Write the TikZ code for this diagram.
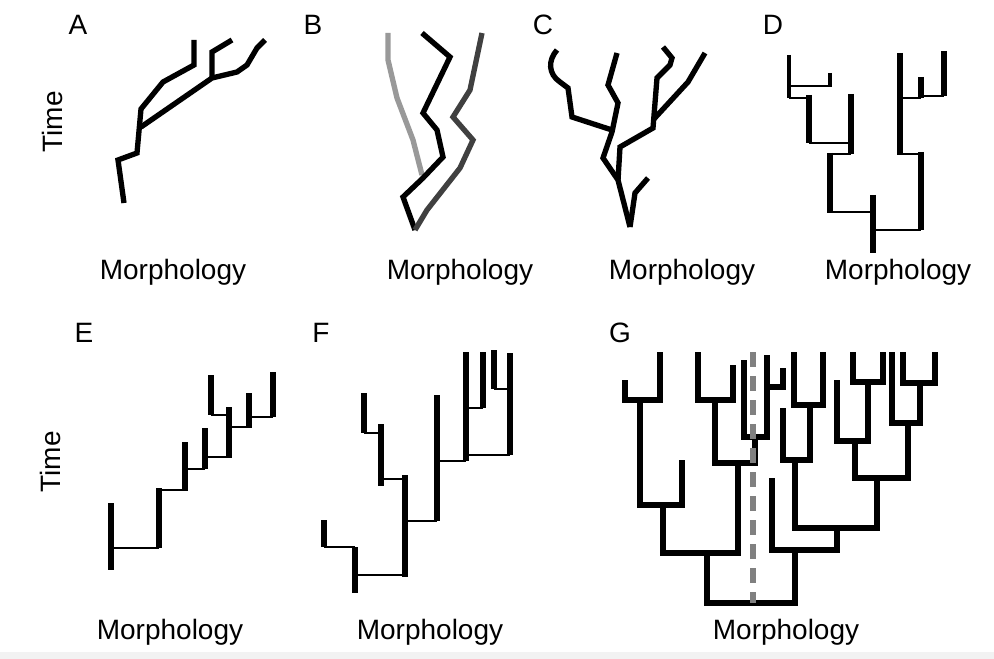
\documentclass[tikz,border=0pt]{standalone}
\usepackage{fontspec}
\setmainfont{Liberation Sans}
\begin{document}
\begin{tikzpicture}[x=0.75pt,y=0.75pt,yscale=-1,xscale=1,
  lbl/.style={font=\fontsize{21}{24}\selectfont,inner sep=0pt},
  lineage/.style={line width=4pt,line join=miter},
  taxon/.style={line width=4.4pt},
  link/.style={line width=1.1pt},
  clade/.style={line width=4pt,line join=miter}]
\useasboundingbox (0,0) rectangle (994,659);
\fill[black!5] (0,652) rectangle (994,659);

% Panel labels
\node[lbl] (labA) at (78,25) {A};
\node[lbl] (labB) at (313,25) {B};
\node[lbl] (labC) at (543,25) {C};
\node[lbl] (labD) at (773,25) {D};
\node[lbl] (labE) at (84,333) {E};
\node[lbl] (labF) at (321,333) {F};
\node[lbl] (labG) at (620,333) {G};
\node[lbl,rotate=90] (timeA) at (52,122) {Time};
\node[lbl,rotate=90] (timeE) at (50,462) {Time};
\node[lbl] (morA) at (173,272) {Morphology};
\node[lbl] (morB) at (460,272) {Morphology};
\node[lbl] (morC) at (682,272) {Morphology};
\node[lbl] (morD) at (898,272) {Morphology};
\node[lbl] (morE) at (170,632) {Morphology};
\node[lbl] (morF) at (430,632) {Morphology};
\node[lbl] (morG) at (786,632) {Morphology};

% A
\draw[lineage] (124,203) -- (118,160) -- (137,153) -- (141,109) -- (163,82) -- (194,65) -- (194,40);
\draw[lineage] (141,127) -- (212,78) -- (237,72) -- (247,65) -- (257,48) -- (265,40);
\draw[lineage] (212,78) -- (212,52) -- (232,40);

% B
\draw[lineage,black!40] (388,33) -- (388,60) -- (397,98) -- (413,140) -- (422,175);
\draw[lineage] (422,33) -- (450,57) -- (423,113) -- (437,130) -- (443,157) -- (423,178) -- (403,197) -- (415,230);
\draw[lineage,black!75] (415,230) -- (427,210) -- (460,168) -- (473,140) -- (453,117) -- (470,90) -- (482,33);

% C
\draw[lineage] (630,227) -- (618,180) -- (603,158) -- (612,132) -- (618,103) -- (608,85) -- (617,53);
\draw[lineage] (612,130) -- (572,117) -- (568,88) -- (560,82) .. controls (548,74) and (548,60) .. (557,50);
\draw[lineage] (630,227) -- (635,193) -- (648,178);
\draw[lineage] (618,180) -- (620,147) -- (653,128) -- (657,78) -- (670,65) -- (672,58) -- (663,47);
\draw[lineage] (653,120) -- (688,82) -- (705,53);

% D
\draw[taxon,line width=3pt] (789,55) -- (789,98);
\draw[taxon,line width=3pt] (830,73) -- (830,87);
\draw[link] (789,86) -- (830,86);
\draw[link] (789,98) -- (809,98);
\draw[taxon] (809,95) -- (809,143);
\draw[taxon] (851,94) -- (851,154);
\draw[link] (809,143) -- (851,143);
\draw[taxon] (830,153) -- (830,213);
\draw[link] (830,154) -- (851,154);
\draw[link] (830,212) -- (873,212);
\draw[taxon] (873,195) -- (873,253);
\draw[link] (873,230) -- (921,230);
\draw[taxon] (921,152) -- (921,230);
\draw[link] (900,154) -- (921,154);
\draw[taxon] (900,53) -- (900,155);
\draw[link] (900,98) -- (921,98);
\draw[taxon] (921,77) -- (921,98);
\draw[link] (921,96) -- (944,96);
\draw[taxon] (944,51) -- (944,96);

% E
\draw[taxon] (111,503) -- (111,570);
\draw[link] (111,548) -- (159,548);
\draw[taxon] (159,488) -- (159,548);
\draw[link] (159,490) -- (185,490);
\draw[taxon] (185,442) -- (185,491);
\draw[link] (185,469) -- (205,469);
\draw[taxon] (205,428) -- (205,469);
\draw[link] (205,457) -- (229,457);
\draw[taxon] (229,407) -- (229,458);
\draw[taxon] (211,375) -- (211,415);
\draw[link] (211,415) -- (229,415);
\draw[link] (229,427) -- (249,427);
\draw[taxon] (249,393) -- (249,428);
\draw[link] (249,417) -- (273,417);
\draw[taxon] (273,372) -- (273,417);

% F
\draw[taxon] (324,520) -- (324,547);
\draw[link] (324,547) -- (355,547);
\draw[taxon] (355,547) -- (355,593);
\draw[link] (355,575) -- (405,575);
\draw[taxon] (405,475) -- (405,577);
\draw[link] (381,479) -- (405,479);
\draw[taxon] (381,424) -- (381,486);
\draw[link] (364,433) -- (381,433);
\draw[taxon] (364,393) -- (364,433);
\draw[link] (405,521) -- (437,521);
\draw[taxon] (437,395) -- (437,521);
\draw[link] (437,461) -- (466,461);
\draw[taxon] (466,352) -- (466,461);
\draw[link] (466,455) -- (510,455);
\draw[taxon] (510,353) -- (510,455);
\draw[link] (466,408) -- (483,408);
\draw[taxon] (483,352) -- (483,408);
\draw[link] (494,389) -- (510,389);
\draw[taxon] (494,350) -- (494,389);

% G
\draw[clade] (707,553) |- (795,603) -- (795,550);
\draw[clade] (663,505) |- (738,553) -- (738,463);
\draw[clade] (640,400) |- (682,505) -- (682,460);
\draw[clade] (625,380) |- (660,400) -- (660,352);
\draw[clade] (715,400) |- (755,463) -- (755,437);
\draw[clade] (698,352) |- (733,400) -- (733,365);
\draw[clade] (744,360) |- (767,437) -- (767,355);
\draw[clade] (767,387) -- (783,387) -- (783,368);
\draw[clade] (772,478) |- (837,550) -- (837,528);
\draw[clade] (795,460) |- (877,528) -- (877,478);
\draw[clade] (783,408) |- (810,460) -- (810,405);
\draw[clade] (794,352) |- (823,405) -- (823,352);
\draw[clade] (855,441) |- (908,478) -- (908,423);
\draw[clade] (837,380) |- (868,441) -- (868,382);
\draw[clade] (853,352) |- (883,382) -- (883,352);
\draw[clade] (892,352) |- (920,423) -- (920,383);
\draw[clade] (903,352) |- (935,383) -- (935,352);
\draw[line width=4.5pt,black!50,dash pattern=on 11pt off 7pt] (753,352) -- (753,603);
\end{tikzpicture}
\end{document}
